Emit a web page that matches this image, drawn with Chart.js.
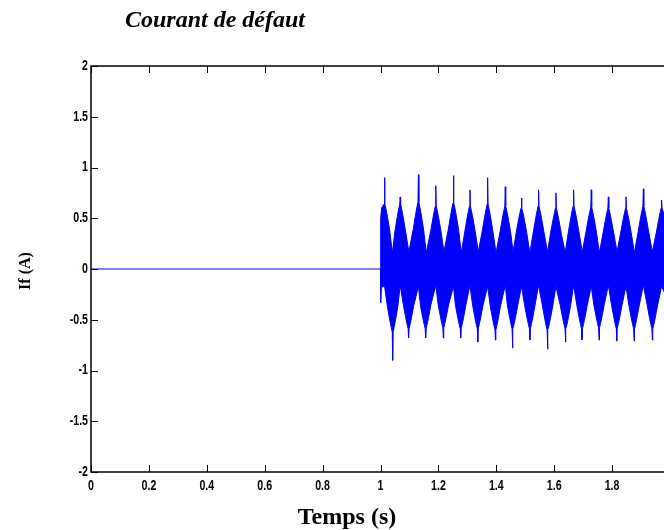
<!DOCTYPE html>
<html>
<head>
<meta charset="utf-8">
<script src="https://cdn.jsdelivr.net/npm/chart.js@4/dist/chart.umd.min.js"></script>
<style>
    html, body { margin: 0; padding: 0; background: #fff; overflow: hidden; }
    #wrap { width: 680px; height: 530px; }
</style>
</head>
<body>
<div id="wrap"><canvas id="courantChart" width="680" height="530"></canvas></div>
<script>
// Graduations
const xTicks = [0, 0.2, 0.4, 0.6, 0.8, 1, 1.2, 1.4, 1.6, 1.8, 2];
const xTickLabels = ['0', '0.2', '0.4', '0.6', '0.8', '1', '1.2', '1.4', '1.6', '1.8', '2'];
const yTicks = [-2, -1.5, -1, -0.5, 0, 0.5, 1, 1.5, 2];
const yTickLabels = ['-2', '-1.5', '-1', '-0.5', '0', '0.5', '1', '1.5', '2'];

// Avant le défaut : courant nul
const avantT = [0, 1.0];
const avantV = [0, 0];

// Enveloppe haute
const hautDebutT = [1.0, 1.0005];
const hautDebutV = [0, 0.50];
const hautPicT = [1.014, 1.068, 1.131, 1.191, 1.252, 1.309, 1.370, 1.431, 1.487, 1.546, 1.606, 1.667, 1.728, 1.787, 1.848, 1.908, 1.971];
const hautPicV = [0.90, 0.71, 0.93, 0.82, 0.92, 0.78, 0.90, 0.81, 0.70, 0.78, 0.75, 0.78, 0.78, 0.71, 0.71, 0.79, 0.68];
const hautCorpsV = [0.64, 0.64, 0.66, 0.62, 0.65, 0.62, 0.64, 0.62, 0.60, 0.62, 0.60, 0.62, 0.61, 0.60, 0.60, 0.62, 0.60];
const hautCreuxT = [1.041, 1.098, 1.158, 1.219, 1.279, 1.338, 1.399, 1.458, 1.516, 1.577, 1.638, 1.697, 1.756, 1.817, 1.877, 1.939, 2.0];
const hautCreuxV = [0.16, 0.17, 0.16, 0.17, 0.16, 0.17, 0.16, 0.17, 0.16, 0.17, 0.16, 0.17, 0.16, 0.17, 0.16, 0.17, 0.30];

// Enveloppe basse
const basDebutT = [1.0, 1.0005, 1.003, 1.014];
const basDebutV = [0, -0.33, -0.18, -0.17];
const basPicT = [1.042, 1.097, 1.156, 1.217, 1.277, 1.336, 1.397, 1.456, 1.516, 1.577, 1.639, 1.696, 1.755, 1.816, 1.876, 1.939];
const basPicV = [-0.90, -0.68, -0.68, -0.68, -0.68, -0.72, -0.70, -0.78, -0.70, -0.79, -0.72, -0.70, -0.70, -0.71, -0.71, -0.70];
const basCorpsV = [-0.62, -0.59, -0.59, -0.58, -0.59, -0.59, -0.60, -0.59, -0.59, -0.60, -0.59, -0.59, -0.58, -0.59, -0.59, -0.59];
const basCreuxT = [1.068, 1.131, 1.191, 1.252, 1.309, 1.370, 1.431, 1.487, 1.546, 1.606, 1.667, 1.728, 1.787, 1.848, 1.908, 1.971];
const basCreuxV = [-0.16, -0.17, -0.16, -0.17, -0.16, -0.17, -0.16, -0.17, -0.16, -0.17, -0.16, -0.17, -0.16, -0.17, -0.16, -0.17];

// Profil d'une bouffée: écart au pic (s) et part de la hauteur du corps
const profilEcart = [0.018, 0.010, 0.005];
const profilPart = [0.45, 0.74, 0.90];
const demiPic = 0.0015;
const bleu = '#0000ff';

function enveloppe(debT, debV, picT, picV, corpsV, creuxT, creuxV) {
    const pts = debT.map((t, i) => ({ x: t, y: debV[i] }));
    picT.forEach((t, i) => {
        const base = i === 0 ? debV[debV.length - 1] : creuxV[i - 1];
        const fin = i < creuxV.length ? creuxV[i] : base;
        const prev = pts[pts.length - 1].x;
        profilEcart.forEach((e, k) => {
            if (t - e > prev) pts.push({ x: t - e, y: base + (corpsV[i] - base) * profilPart[k] });
        });
        pts.push({ x: t - demiPic, y: corpsV[i] });
        pts.push({ x: t, y: picV[i] });
        pts.push({ x: t + demiPic, y: corpsV[i] });
        for (let k = profilEcart.length - 1; k >= 0; k--) {
            pts.push({ x: t + profilEcart[k], y: fin + (corpsV[i] - fin) * profilPart[k] });
        }
        if (i < creuxT.length) pts.push({ x: creuxT[i], y: creuxV[i] });
    });
    return pts.filter(p => p.x <= 2);
}

const hautData = enveloppe(hautDebutT, hautDebutV, hautPicT, hautPicV, hautCorpsV, hautCreuxT, hautCreuxV);
const basData = enveloppe(basDebutT, basDebutV, basPicT, basPicV, basCorpsV, basCreuxT, basCreuxV);
basData.push({ x: 2.0, y: -0.35 });

const tickFont = 'bold 14px "Liberation Sans", Arial, sans-serif';
const serre = 0.76;   // police étroite

// Cadre, graduations vers l'intérieur et textes (style MATLAB)
const cadrePlugin = {
    id: 'cadre',
    afterDraw(chart) {
        const { ctx, chartArea: a, scales } = chart;
        ctx.save();
        ctx.strokeStyle = '#000';
        ctx.lineWidth = 1.5;
        ctx.strokeRect(a.left, a.top, a.right - a.left, a.bottom - a.top);
        ctx.lineWidth = 1;
        ctx.beginPath();
        xTicks.forEach(v => {
            const px = Math.round(scales.x.getPixelForValue(v)) + 0.5;
            ctx.moveTo(px, a.bottom); ctx.lineTo(px, a.bottom - 7);
            ctx.moveTo(px, a.top); ctx.lineTo(px, a.top + 7);
        });
        yTicks.forEach(v => {
            const py = Math.round(scales.y.getPixelForValue(v)) + 0.5;
            ctx.moveTo(a.left, py); ctx.lineTo(a.left + 7, py);
        });
        ctx.stroke();

        // étiquettes des graduations
        ctx.fillStyle = '#000';
        ctx.font = tickFont;
        ctx.textAlign = 'center';
        ctx.textBaseline = 'alphabetic';
        xTicks.forEach((v, i) => {
            ctx.save();
            ctx.translate(scales.x.getPixelForValue(v), a.bottom + 18);
            ctx.scale(serre, 1);
            ctx.fillText(xTickLabels[i], 0, 0);
            ctx.restore();
        });
        ctx.textAlign = 'right';
        ctx.textBaseline = 'middle';
        yTicks.forEach((v, i) => {
            ctx.save();
            ctx.translate(a.left - 3, scales.y.getPixelForValue(v));
            ctx.scale(serre, 1);
            ctx.fillText(yTickLabels[i], 0, 0);
            ctx.restore();
        });

        ctx.textBaseline = 'alphabetic';
        ctx.font = 'italic bold 24px "Liberation Serif", "Times New Roman", serif';
        ctx.textAlign = 'left';
        ctx.fillText('Courant de défaut', 125, 27);

        ctx.font = 'bold 24px "Liberation Serif", "Times New Roman", serif';
        ctx.textAlign = 'center';
        ctx.fillText('Temps (s)', 347, 524);

        ctx.translate(30, 271);
        ctx.rotate(-Math.PI / 2);
        ctx.font = 'bold 16px "Liberation Serif", "Times New Roman", serif';
        ctx.fillText('If (A)', 0, 0);
        ctx.restore();
    }
};

const ctx = document.getElementById('courantChart').getContext('2d');
new Chart(ctx, {
    type: 'line',
    data: {
        datasets: [
            {
                data: avantT.map((t, i) => ({ x: t, y: avantV[i] })),
                borderColor: bleu,
                borderWidth: 1,
                fill: false
            },
            {
                data: hautData,
                borderColor: bleu,
                backgroundColor: bleu,
                borderWidth: 1,
                fill: 'origin'
            },
            {
                data: basData,
                borderColor: bleu,
                backgroundColor: bleu,
                borderWidth: 1,
                fill: 'origin'
            }
        ]
    },
    options: {
        responsive: false,
        animation: false,
        events: [],
        layout: { padding: { top: 66, right: 10, left: 0, bottom: 0 } },
        elements: { point: { radius: 0 }, line: { tension: 0 } },
        plugins: { legend: { display: false }, tooltip: { enabled: false } },
        scales: {
            x: {
                type: 'linear',
                min: 0,
                max: 2,
                afterFit: s => { s.height = 58; },
                grid: { display: false },
                border: { display: false },
                ticks: { display: false }
            },
            y: {
                min: -2,
                max: 2,
                afterFit: s => { s.width = 91; },
                grid: { display: false },
                border: { display: false },
                ticks: { display: false }
            }
        }
    },
    plugins: [cadrePlugin]
});
</script>
</body>
</html>
